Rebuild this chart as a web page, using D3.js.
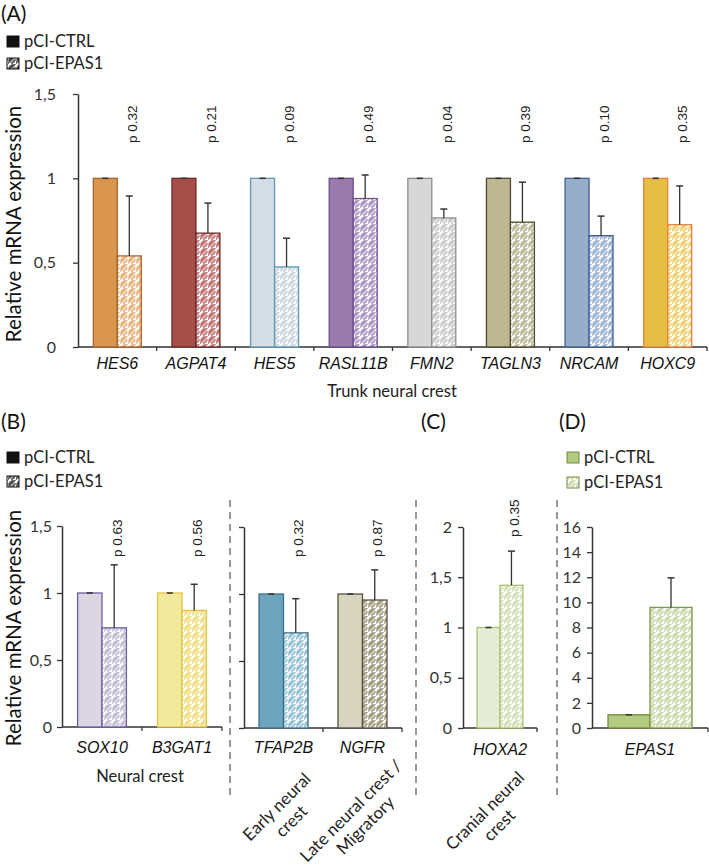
<!DOCTYPE html>
<html><head><meta charset="utf-8">
<script src="https://cdn.jsdelivr.net/npm/d3@7"></script>
<style>body{margin:0;background:#fff}svg{display:block}</style>
</head><body>
<svg id="c" width="709" height="867"></svg>
<script>
// ---------- data ----------
const genesA = ["HES6","AGPAT4","HES5","RASL11B","FMN2","TAGLN3","NRCAM","HOXC9"];
const ctrlA = [1,1,1,1,1,1,1,1];
const epasA = [0.54,0.675,0.475,0.88,0.765,0.74,0.66,0.725];
const errA  = [0.355,0.178,0.17,0.14,0.053,0.237,0.116,0.23];
const pA    = ["0.32","0.21","0.09","0.49","0.04","0.39","0.10","0.35"];

const genesB1 = ["SOX10","B3GAT1"];
const ctrlB1 = [1,1];
const epasB1 = [0.74,0.87];
const errB1  = [0.47,0.195];
const pB1    = ["0.63","0.56"];

const genesB2 = ["TFAP2B","NGFR"];
const ctrlB2 = [1,1];
const epasB2 = [0.71,0.955];
const errB2  = [0.255,0.225];
const pB2    = ["0.32","0.87"];

const genesC = ["HOXA2"];
const ctrlC = [1];
const epasC = [1.42];
const errC  = [0.34];
const pC    = ["0.35"];

const genesD = ["EPAS1"];
const ctrlD = [1.05];
const epasD = [9.6];
const errD  = [2.35];

const ticksAB = [0,0.5,1,1.5];
const ticksC = [0,0.5,1,1.5,2];
const ticksD = [0,2,4,6,8,10,12,14,16];
const legendLabels = ["pCI-CTRL","pCI-EPAS1"];

// colours
const fillA   = ["#D9964F","#A54F4A","#D5DEE5","#9A7BAC","#D7D7D7","#BDB892","#97AECB","#E6BD45"];
const strokeA = ["#A8662C","#6B2A27","#5E98B2","#6B4C91","#8D8D8D","#4E4B2E","#41608E","#E5833E"];
const patA    = ["#E3A262","#B4504C","#BCCBD6","#9878B8","#BDBDBD","#ACA67E","#86A2CA","#EDC44E"];
const fillB1 = ["#DAD6E2","#F1EA9C"], strokeB1 = ["#6F5CA3","#E8C245"], patB1 = ["#B4AECB","#EFD660"];
const fillB2 = ["#6DA5BE","#D7D4C0"], strokeB2 = ["#3F6F86","#55533F"], patB2 = ["#7AB5CE","#8C8562"];
const fillC = ["#E7ECD8"], strokeC = ["#A8C46E"], patC = ["#C8D8A4"];
const fillD = ["#B3CA80"], strokeD = ["#6C8A3C"], patD = ["#BFD098"];

// ---------- drawing ----------
const svg = d3.select("#c");
const defs = svg.append("defs");
let patId = 0;
function pattern(color){
  const id = "pat" + (patId++);
  const p = defs.append("pattern").attr("id", id).attr("patternUnits","userSpaceOnUse")
    .attr("width",8).attr("height",8);
  p.append("rect").attr("width",8).attr("height",8).attr("fill","#fff");
  p.append("path").attr("d","M0,8 V6 H2 V4 H4 V2 H6 V0 H8 M4,8 V6 H6 V4 H8")
    .attr("fill","none").attr("stroke",color).attr("stroke-width",1.2);
  p.append("path").attr("d","M0,4 H2 V2 H4 V0")
    .attr("fill","none").attr("stroke",color).attr("stroke-width",1.2);
  return "url(#" + id + ")";
}
const sans = "Lato, 'Open Sans', sans-serif";
const arial = "'Liberation Sans', Arial, sans-serif";
const axisCol = "#333";

function fmt(v){ return String(v).replace(".", ","); }

function panel(o){
  const g = svg.append("g");
  const y = d3.scaleLinear().domain([0, o.ticks[o.ticks.length-1]]).range([o.yBase, o.yTop]);
  const x = d3.scaleBand().domain(o.cats).range([o.x0, o.x1])
      .paddingInner(o.pad).paddingOuter(o.pad/2);
  const sub = d3.scaleBand().domain(["ctrl","epas"]).range([0, x.bandwidth()]);

  // y axis
  const ya = d3.axisLeft(y).tickValues(o.ticks).tickSizeInner(5).tickSizeOuter(0)
      .tickPadding(o.tickPad).tickFormat(o.labels ? (o.fmt || fmt) : "");
  const yg = g.append("g").attr("transform", `translate(${o.x0},0)`).call(ya);
  yg.select(".domain").attr("stroke", axisCol).attr("stroke-width",1.5);
  yg.selectAll(".tick line").attr("stroke", axisCol).attr("stroke-width",1.3);
  yg.selectAll(".tick text").attr("font-family", sans).attr("font-size",16).attr("fill","#333");

  // x axis
  g.append("line").attr("x1",o.x0).attr("x2",o.x1).attr("y1",y(0)).attr("y2",y(0))
    .attr("stroke",axisCol).attr("stroke-width",1.5);
  const bounds = o.cats.map(c => x(c) + x.bandwidth()/2 + x.step()/2);
  g.selectAll(".xt").data(bounds).enter().append("line")
    .attr("x1",d=>d).attr("x2",d=>d).attr("y1",y(0)).attr("y2",y(0)+4)
    .attr("stroke",axisCol).attr("stroke-width",1.3);

  const rows = o.cats.map((c,i)=>({c, i, ctrl:o.ctrl[i], epas:o.epas[i], err:o.err[i]}));
  // ctrl bars
  g.selectAll(".cb").data(rows).enter().append("rect")
    .attr("x", d => x(d.c) + sub("ctrl")).attr("width", sub.bandwidth())
    .attr("y", d => y(d.ctrl)).attr("height", d => y(0) - y(d.ctrl))
    .attr("fill", d => o.fill[d.i]).attr("stroke", d => o.stroke[d.i]).attr("stroke-width",1.3);
  // epas bars
  g.selectAll(".eb").data(rows).enter().append("rect")
    .attr("x", d => x(d.c) + sub("epas")).attr("width", sub.bandwidth())
    .attr("y", d => y(d.epas)).attr("height", d => y(0) - y(d.epas))
    .attr("fill", d => pattern(o.pat[d.i])).attr("stroke", d => (o.estroke||o.stroke)[d.i]).attr("stroke-width",1.3);
  // ctrl zero-error caps
  g.selectAll(".cc").data(rows).enter().append("line")
    .attr("x1", d => x(d.c) + sub("ctrl") + sub.bandwidth()/2 - 3)
    .attr("x2", d => x(d.c) + sub("ctrl") + sub.bandwidth()/2 + 3)
    .attr("y1", d => y(d.ctrl)).attr("y2", d => y(d.ctrl))
    .attr("stroke","#333").attr("stroke-width",1.6);
  // epas error bars
  const ex = d => x(d.c) + sub("epas") + sub.bandwidth()/2;
  g.selectAll(".ev").data(rows).enter().append("line")
    .attr("x1", ex).attr("x2", ex).attr("y1", d => y(d.epas)).attr("y2", d => y(d.epas + d.err))
    .attr("stroke","#333").attr("stroke-width",1.3);
  g.selectAll(".ec").data(rows).enter().append("line")
    .attr("x1", d => ex(d) - 3.5).attr("x2", d => ex(d) + 3.5)
    .attr("y1", d => y(d.epas + d.err)).attr("y2", d => y(d.epas + d.err))
    .attr("stroke","#333").attr("stroke-width",1.5);

  // p values
  if (o.p) {
    g.selectAll(".pv").data(rows).enter().append("text")
      .attr("transform", d => `translate(${ex(d)+3},${o.pY}) rotate(-90)`)
      .attr("dy","0.35em").attr("font-family", arial).attr("font-size",13.5).attr("fill","#222")
      .text(d => "p " + o.p[d.i]);
  }
  // category labels
  g.selectAll(".cl").data(rows).enter().append("text")
    .attr("x", d => x(d.c) + x.bandwidth()/2).attr("y", o.labelY)
    .attr("text-anchor","middle").attr("font-family", arial).attr("font-style","italic")
    .attr("font-size",16).attr("fill","#111").text(d => d.c);
  return {x, y};
}

function legend(x, y1, y2, fillCol, strokeCol, patCol){
  const g = svg.append("g");
  g.append("rect").attr("x",x).attr("y",y1-11).attr("width",12).attr("height",11)
    .attr("fill",fillCol).attr("stroke",strokeCol).attr("stroke-width",1);
  g.append("rect").attr("x",x).attr("y",y2-11).attr("width",12).attr("height",11)
    .attr("fill",pattern(patCol)).attr("stroke",strokeCol).attr("stroke-width",1);
  g.append("text").attr("x",x+17).attr("y",y1).attr("font-family",sans).attr("font-size",16.5).attr("fill","#222").text(legendLabels[0]);
  g.append("text").attr("x",x+17).attr("y",y2).attr("font-family",sans).attr("font-size",16.5).attr("fill","#222").text(legendLabels[1]);
}
function label(txt, x, y){
  svg.append("text").attr("x",x).attr("y",y).attr("font-family",sans).attr("font-size",21).attr("fill","#111").text(txt);
}
function ytitle(cx, cy){
  svg.append("text").attr("transform",`translate(${cx},${cy}) rotate(-90)`).attr("text-anchor","middle")
    .attr("font-family",sans).attr("font-size",20.5).attr("fill","#111").text("Relative mRNA expression");
}
function dashed(x, y1, y2){
  svg.append("line").attr("x1",x).attr("x2",x).attr("y1",y1).attr("y2",y2)
    .attr("stroke","#555").attr("stroke-width",1.2).attr("stroke-dasharray","7,5");
}
function groupText(lines, x, y, rot, size){
  const t = svg.append("text").attr("transform",`translate(${x},${y}) rotate(${rot})`)
    .attr("text-anchor","middle").attr("font-family",sans).attr("font-size",size).attr("fill","#222");
  lines.forEach((l,i)=> t.append("tspan").attr("x",0).attr("dy", i===0 ? 0 : "1.2em").text(l));
}

// Panel A
label("(A)", 1, 21);
legend(7, 47, 69, "#111", "#111", "#222");
ytitle(21, 224);
panel({x0:78, x1:707, yTop:94, yBase:347, ticks:ticksAB, labels:true, tickPad:17,
  cats:genesA, ctrl:ctrlA, epas:epasA, err:errA, p:pA, pY:143,
  fill:fillA, stroke:strokeA, pat:patA, pad:0.39, labelY:369});
groupText(["Trunk neural crest"], 392, 397, 0, 16.5);

// Panel B
label("(B)", 1, 429);
legend(7, 463, 487, "#111", "#111", "#222");
ytitle(21, 628);
panel({x0:62, x1:222, yTop:526, yBase:727, ticks:ticksAB, labels:true, tickPad:5,
  cats:genesB1, ctrl:ctrlB1, epas:epasB1, err:errB1, p:pB1, pY:557,
  fill:fillB1, stroke:strokeB1, pat:patB1, pad:0.39, labelY:753});
panel({x0:244, x1:402, yTop:527, yBase:728, ticks:ticksAB, labels:false, tickPad:5,
  cats:genesB2, ctrl:ctrlB2, epas:epasB2, err:errB2, p:pB2, pY:557,
  fill:fillB2, stroke:strokeB2, pat:patB2, pad:0.38, labelY:753});
groupText(["Neural crest"], 140, 782, 0, 16.5);
groupText(["Early neural","crest"], 281, 811, -45, 17);
groupText(["Late neural crest /","Migratory"], 355, 815, -45, 17);
dashed(230, 500, 800);
dashed(416, 500, 800);

// Panel C
label("(C)", 421, 429);
panel({x0:463, x1:537, yTop:527, yBase:728, ticks:ticksC, labels:true, tickPad:6,
  cats:genesC, ctrl:ctrlC, epas:epasC, err:errC, p:pC, pY:537,
  fill:fillC, stroke:strokeC, pat:patC, pad:0.38, labelY:755});
groupText(["Cranial neural","crest"], 489, 815, -45, 17);
dashed(557, 500, 800);

// Panel D
label("(D)", 559, 429);
legend(567, 463, 488, fillD[0], strokeD[0], patD[0]);
panel({x0:592, x1:708, yTop:527, yBase:728, ticks:ticksD, labels:true, tickPad:6, fmt:d=>String(d),
  cats:genesD, ctrl:ctrlD, epas:epasD, err:errD, p:null,
  fill:fillD, stroke:strokeD, estroke:["#7B9A4A"], pat:patD, pad:0.276, labelY:755});
</script>
</body></html>
